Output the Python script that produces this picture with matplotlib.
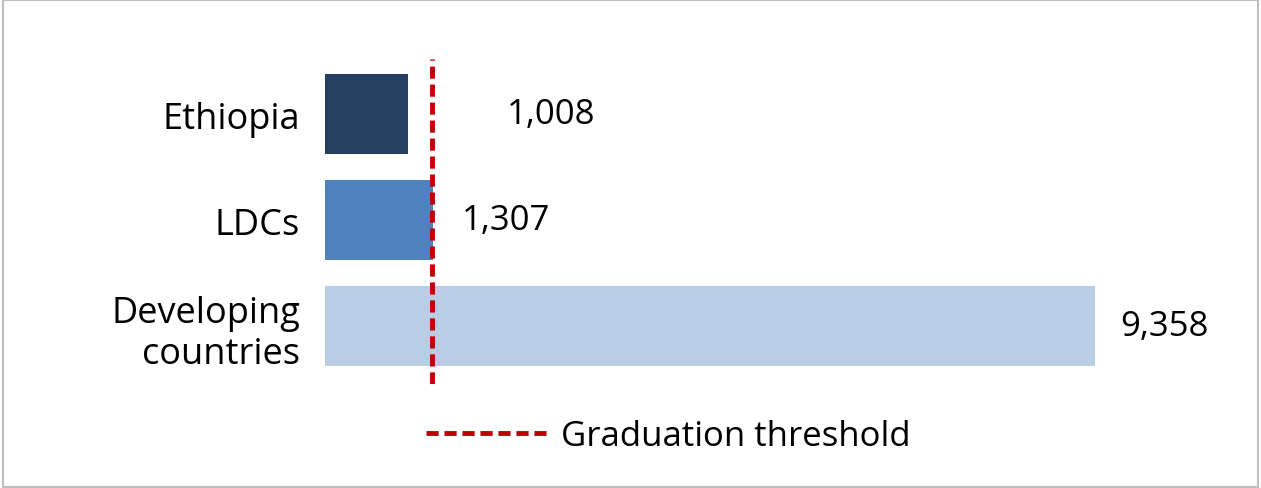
import matplotlib
matplotlib.use("Agg")
import matplotlib.pyplot as plt
from matplotlib.lines import Line2D
from matplotlib.patches import Rectangle

categories = ["Ethiopia", "LDCs", "Developing\ncountries"]
values = [1008, 1307, 9358]
labels = ["1,008", "1,307", "9,358"]
label_offsets = [1200, 350, 300]
threshold = 1300
colors = ["#243F60", "#4F81BD", "#B9CDE5"]

plt.rcParams["font.family"] = ["Open Sans", "DejaVu Sans"]

fig = plt.figure(figsize=(12.61, 4.89), dpi=100)
ax = fig.add_axes([325 / 1261, 1 - 385 / 489, 915 / 1261, 325 / 489])
pos = list(range(len(categories)))
ax.barh(pos, values, height=0.755, color=colors)
for p, v, lab, off in zip(pos, values, labels, label_offsets):
    ax.text(v + off, p, lab, va="center", ha="left", fontsize=25)
ax.axvline(threshold, color="#C00000", linestyle=(0, (2.5, 1.2)), linewidth=3.5)
ax.set_xlim(0, 915 / 0.0823)
ax.set_ylim(2.547, -0.519)
ax.set_yticks(pos)
ax.set_yticklabels(categories, fontsize=26, linespacing=1.2)
ax.tick_params(axis="y", length=0, pad=18)
ax.set_xticks([])
for s in ax.spines.values():
    s.set_visible(False)

handle = Line2D([], [], color="#C00000", linestyle=(0, (2.5, 1.2)), linewidth=3.5)
fig.legend([handle], ["Graduation threshold"], loc="center", bbox_to_anchor=(0.53, 1 - 437 / 489),
           frameon=False, fontsize=25, handlelength=3.6, handletextpad=0.3)
fig.patches.append(Rectangle((0.002, 0.003), 0.996, 0.994, transform=fig.transFigure,
                             fill=False, edgecolor="#BFBFBF", linewidth=1.5))
fig.savefig("out.png", dpi=100)
